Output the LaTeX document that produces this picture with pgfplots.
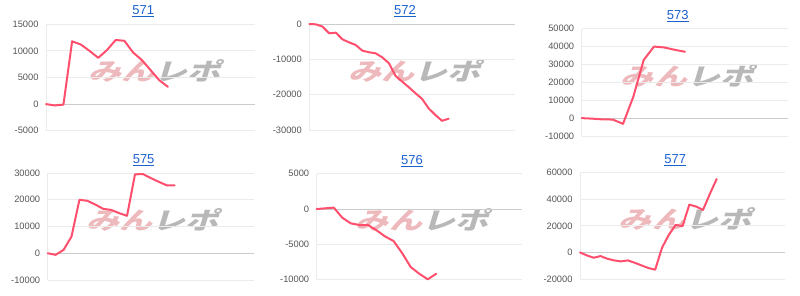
\documentclass[border=0pt]{standalone}
\usepackage{pgfplots}
\pgfplotsset{compat=1.18}
\usepackage{fontspec}
\setmainfont{Liberation Sans}
\newfontfamily\cjk{Noto Sans CJK JP}
\definecolor{linec}{HTML}{FF4F6D}
\definecolor{gridc}{HTML}{EBEBEB}
\definecolor{zeroc}{HTML}{CCCCCC}
\definecolor{tickc}{HTML}{555555}
\definecolor{titlec}{HTML}{1A62D0}
\definecolor{wmpink}{HTML}{EDB9BC}
\definecolor{wmgray}{HTML}{B8B8B8}
\pgfplotsset{
  panel/.style={
    anchor=south west,
    scale only axis,
    xmin=0,
    xtick=\empty,
    ymajorgrids,
    grid style={gridc, line width=0.8pt},
    axis lines=left,
    axis line style={-, gridc, line width=0.8pt},
    major tick length=0pt,
    scaled y ticks=false,
    /pgf/number format/.cd, set thousands separator={}, assume math mode=true,
    /pgfplots/.cd,
    yticklabel style={font=\fontsize{9.3}{11}\selectfont, text=tickc, xshift=-4pt},
    extra y ticks={0},
    extra y tick labels={},
    extra y tick style={grid style={zeroc, line width=0.9pt}},
    title style={at={(0.465,1)}, anchor=base, yshift=3.5pt, font=\fontsize{13}{15}\selectfont, text=titlec},
    clip=false,
  },
  dline/.style={linec, line width=2pt, line join=round, line cap=round, no marks},
}
\newcommand{\wm}[2]{\node[xslant=0.3, xscale=1.38, inner sep=0] at (#1pt,#2pt) {\cjk\bfseries\fontsize{24}{26}\selectfont\textcolor{wmpink}{みん}\textcolor{wmgray}{レポ}};}
\begin{document}
\begin{tikzpicture}
\useasboundingbox (0pt,0pt) rectangle (800pt,295pt);
\wm{157.5}{224}
\wm{417.5}{224}
\wm{690}{219}
\wm{155.5}{75.5}
\wm{425}{75.5}
\wm{688}{76.3}
% 571
\begin{axis}[panel, at={(46pt,164.3pt)}, width=209pt, height=106.4pt,
  xmax=24, ymin=-5000, ymax=15000, ytick={-5000,0,5000,10000,15000},
  title={\underline{571}}]
\addplot[dline] coordinates {(0,0) (1,-250) (2,-100) (3,11800) (4,11200) (5,10000) (6,8700) (7,10150) (8,12050) (9,11900) (10,9700) (11,8300) (12,6400) (13,4500) (14,3250)};
\end{axis}
% 572
\begin{axis}[panel, at={(309.3pt,165pt)}, width=205.7pt, height=106pt,
  xmax=31, ymin=-30000, ymax=0, ytick={-30000,-20000,-10000,0},
  title={\underline{572}}]
\addplot[dline] coordinates {(0,0) (1,-100) (2,-750) (3,-2650) (4,-2450) (5,-4350) (6,-5200) (7,-5950) (8,-7550) (9,-8000) (10,-8300) (11,-9450) (12,-11100) (13,-14700) (14,-16300) (15,-17900) (16,-19600) (17,-21200) (18,-23900) (19,-25750) (20,-27400) (21,-26800)};
\end{axis}
% 573
\begin{axis}[panel, at={(581.7pt,159pt)}, width=206.6pt, height=107.3pt,
  xmax=20, ymin=-10000, ymax=50000, ytick={-10000,0,10000,20000,30000,40000,50000},
  title={\underline{573}}]
\addplot[dline] coordinates {(0,0) (1,-300) (2,-700) (3,-800) (4,-3200) (5,12000) (6,32500) (7,40000) (8,39500) (9,38200) (10,37100)};
\end{axis}
% 575
\begin{axis}[panel, at={(47.7pt,15pt)}, width=206.3pt, height=107pt,
  xmax=26, ymin=-10000, ymax=30000, ytick={-10000,0,10000,20000,30000},
  title={\underline{575}}]
\addplot[dline] coordinates {(0,0) (1,-600) (2,1250) (3,6250) (4,20000) (5,19600) (6,18200) (7,16600) (8,16200) (9,15000) (10,14000) (11,29500) (12,29600) (13,28100) (14,26700) (15,25400) (16,25400)};
\end{axis}
% 576
\begin{axis}[panel, at={(316.7pt,15.3pt)}, width=205pt, height=106pt,
  xmax=24, ymin=-10000, ymax=5000, ytick={-10000,-5000,0,5000},
  title={\underline{576}}]
\addplot[dline] coordinates {(0,0) (1,100) (2,200) (3,-1230) (4,-2030) (5,-2260) (6,-2260) (7,-3000) (8,-3870) (9,-4530) (10,-6230) (11,-8200) (12,-9150) (13,-9950) (14,-9150)};
\end{axis}
% 577
\begin{axis}[panel, at={(580pt,16pt)}, width=205pt, height=106.3pt,
  xmax=30, ymin=-20000, ymax=60000, ytick={-20000,0,20000,40000,60000},
  title={\underline{577}}]
\addplot[dline] coordinates {(0,0) (1,-2250) (2,-4000) (3,-2750) (4,-4750) (5,-6000) (6,-6750) (7,-6000) (8,-7750) (9,-9750) (10,-11750) (11,-13000) (12,3500) (13,13250) (14,20750) (15,19750) (16,36000) (17,34500) (18,32000) (19,44000) (20,55250)};
\end{axis}
\end{tikzpicture}
\end{document}
